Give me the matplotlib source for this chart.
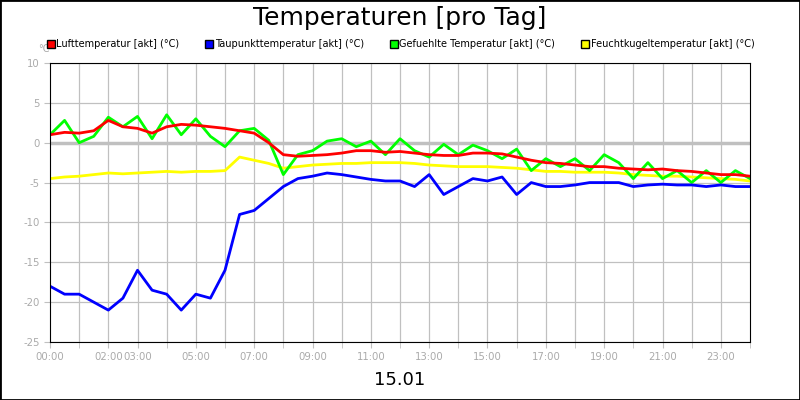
import matplotlib
matplotlib.use("Agg")
import matplotlib.pyplot as plt
from matplotlib.lines import Line2D
from matplotlib.patches import Rectangle

hours = [i * 0.5 for i in range(49)]
luft = [1.0,1.3,1.2,1.5,2.8,2.0,1.8,1.2,2.0,2.3,2.2,2.0,1.8,1.5,1.2,0.0,-1.5,-1.7,-1.6,-1.5,-1.3,-1.0,-1.0,-1.2,-1.1,-1.3,-1.5,-1.6,-1.6,-1.3,-1.3,-1.4,-1.8,-2.2,-2.5,-2.6,-2.8,-3.0,-3.0,-3.2,-3.3,-3.4,-3.3,-3.5,-3.6,-3.8,-4.0,-4.0,-4.2]
taupunkt = [-18,-19,-19,-20,-21,-19.5,-16,-18.5,-19,-21,-19,-19.5,-16,-9,-8.5,-7,-5.5,-4.5,-4.2,-3.8,-4.0,-4.3,-4.6,-4.8,-4.8,-5.5,-4.0,-6.5,-5.5,-4.5,-4.8,-4.3,-6.5,-5.0,-5.5,-5.5,-5.3,-5.0,-5.0,-5.0,-5.5,-5.3,-5.2,-5.3,-5.3,-5.5,-5.3,-5.5,-5.5]
gefuehlt = [1,2.8,0,0.8,3.2,2.0,3.3,0.5,3.5,1.0,3.0,0.8,-0.5,1.5,1.8,0.3,-4.0,-1.5,-1.0,0.2,0.5,-0.5,0.2,-1.5,0.5,-1.0,-1.8,-0.2,-1.5,-0.3,-1.0,-2.0,-0.8,-3.5,-2.0,-3.0,-2.0,-3.5,-1.5,-2.5,-4.5,-2.5,-4.5,-3.5,-5.0,-3.5,-5.0,-3.5,-4.5]
feucht = [-4.5,-4.3,-4.2,-4.0,-3.8,-3.9,-3.8,-3.7,-3.6,-3.7,-3.6,-3.6,-3.5,-1.8,-2.2,-2.6,-3.2,-3.0,-2.8,-2.7,-2.6,-2.6,-2.5,-2.5,-2.5,-2.6,-2.8,-2.9,-3.0,-3.0,-3.0,-3.1,-3.2,-3.4,-3.6,-3.6,-3.7,-3.7,-3.7,-3.8,-4.0,-4.1,-4.2,-4.2,-4.3,-4.4,-4.5,-4.6,-4.8]
series_names = ["Lufttemperatur [akt] (°C)", "Taupunkttemperatur [akt] (°C)",
                "Gefuehlte Temperatur [akt] (°C)", "Feuchtkugeltemperatur [akt] (°C)"]
colors = ["#ff0000", "#0000ff", "#00ff00", "#ffff00"]
xtick_pos = [0, 2, 3, 5, 7, 9, 11, 13, 15, 17, 19, 21, 23]
xtick_labels = ["00:00", "02:00", "03:00", "05:00", "07:00", "09:00", "11:00",
                "13:00", "15:00", "17:00", "19:00", "21:00", "23:00"]
yticks = [10, 5, 0, -5, -10, -15, -20, -25]

fig = plt.figure(figsize=(8, 4), dpi=100)
ax = fig.add_axes([50/800, 1-342/400, 700/800, 279/400])
for y in yticks:
    ax.axhline(y, color="#c0c0c0", lw=2.5 if y == 0 else 0.9, zorder=0)
for h in range(1, 24):
    ax.axvline(h, color="#c0c0c0", lw=0.9, zorder=0)
ax.plot(hours, feucht, color=colors[3], lw=2)
ax.plot(hours, gefuehlt, color=colors[2], lw=2)
ax.plot(hours, luft, color=colors[0], lw=2)
ax.plot(hours, taupunkt, color=colors[1], lw=2)
ax.set_xlim(0, 24)
ax.set_ylim(-25, 10)
ax.set_yticks(yticks)
ax.set_yticklabels([str(v) for v in yticks])
ax.set_xticks(xtick_pos)
ax.set_xticklabels(xtick_labels)
ax.set_xticks(range(0, 25), minor=True)
ax.tick_params(colors="#c0c0c0", labelsize=7.3, length=4, which="both")
ax.tick_params(labelcolor="#aaaaaa")
for s in ax.spines.values():
    s.set_color("black")
fig.text(0.5, 1-18/400, "Temperaturen [pro Tag]", ha="center", va="center", fontsize=18)
fig.text(0.5, 1-380/400, "15.01", ha="center", va="center", fontsize=13)
fig.text(38/800, 1-49/400, "°C", ha="left", va="center", fontsize=7, color="#aaaaaa")
handles = [Line2D([], [], marker="s", linestyle="none", markerfacecolor=c,
                  markeredgecolor="black", markersize=6) for c in colors]
fig.legend(handles, series_names, loc="center", bbox_to_anchor=(0.5, 1-44/400), ncol=4,
           frameon=False, fontsize=7, handletextpad=0.05, columnspacing=2.6, handlelength=1)
fig.patches.append(Rectangle((0, 0), 1, 1, transform=fig.transFigure, fill=False,
                             edgecolor="black", lw=2))
fig.savefig("out.png")
